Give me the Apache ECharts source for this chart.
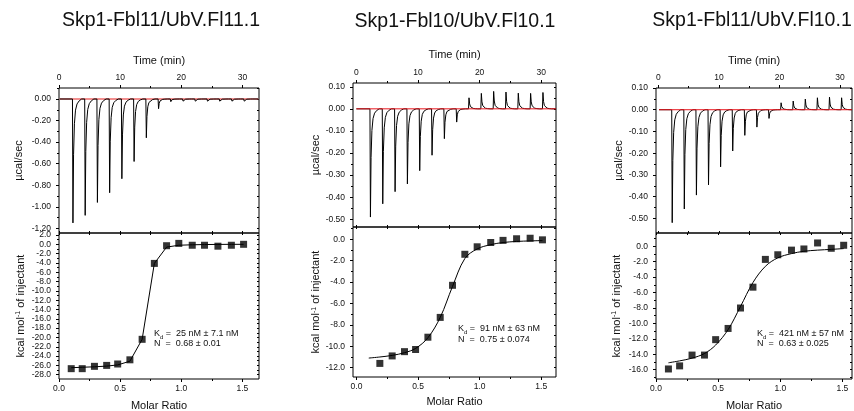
<!DOCTYPE html>
<html><head><meta charset="utf-8">
<script src="https://cdn.jsdelivr.net/npm/echarts@6/dist/echarts.min.js"></script>
<style>html,body{margin:0;padding:0;background:#fff}#c{width:854px;height:411px}</style>
</head><body><div id="c"></div>
<script>
// ---------------- data ----------------
const titles = ['Skp1-Fbl11/UbV.Fl11.1', 'Skp1-Fbl10/UbV.Fl10.1', 'Skp1-Fbl11/UbV.Fl10.1'];
const kdText = ['25 nM \u00b1 7.1 nM', '91 nM \u00b1 63 nM', '421 nM \u00b1 57 nM'];
const nText = ['0.68 \u00b1 0.01', '0.75 \u00b1 0.074', '0.63 \u00b1 0.025'];

// raw thermogram: injection times (min) and peak heights (µcal/sec)
const injTimes = [2.2, 4.2, 6.2, 8.2, 10.2, 12.2, 14.2, 16.2, 18.2, 20.2, 22.2, 24.2, 26.2, 28.2, 30.2];
const peaks1 = [-1.15, -1.08, -0.96, -0.87, -0.74, -0.58, -0.36, -0.09, -0.025, -0.02, -0.02, -0.02, -0.02, -0.02, -0.02];
const peaks2 = [-0.49, -0.43, -0.375, -0.34, -0.28, -0.21, -0.135, -0.06, 0.05, 0.07, 0.079, 0.076, 0.071, 0.07, 0.074];
const peaks3 = [-0.52, -0.457, -0.393, -0.346, -0.263, -0.19, -0.118, -0.08, -0.04, 0.032, 0.04, 0.049, 0.055, 0.058, 0.055];
// peak profile: time after injection (min) and fraction of peak height
const peakOffset = [0, 0.08, 0.18, 0.32, 0.5, 0.75, 1.1, 1.5];
const peakShape = [0, 1, 0.45, 0.2, 0.09, 0.04, 0.015, 0];
const traceStart = [0.1, 0, 0.1];
const traceEnd = [32.6, 32.4, 32.0];

// integrated heats
const molar = [0.10, 0.19, 0.29, 0.39, 0.48, 0.58, 0.68, 0.78, 0.88, 0.98, 1.09, 1.19, 1.30, 1.41, 1.51];
const heat1 = [-26.7, -26.7, -26.2, -26.0, -25.7, -24.8, -20.4, -4.1, -0.3, 0.2, -0.2, -0.2, -0.4, -0.2, 0.0];
const heat2 = [null, -11.6, -10.9, -10.5, -10.3, -9.15, -7.3, -4.3, -1.4, -0.7, -0.3, -0.1, 0.05, 0.1, -0.05];
const heat3 = [-15.9, -15.5, -14.1, -14.1, -12.1, -10.65, -8.0, -5.3, -1.7, -1.1, -0.5, -0.35, 0.43, -0.26, 0.13];
const fit1 = [-26.5, -26.4, -26.3, -26.15, -25.9, -25.1, -20.4, -4.1, -0.6, -0.2, -0.1, -0.05, -0.02, 0, 0];
const fit2 = [-11.1, -11.0, -10.85, -10.6, -10.2, -9.2, -7.3, -4.4, -1.8, -0.9, -0.5, -0.3, -0.2, -0.15, -0.12];
const fit3 = [-15.1, -14.85, -14.5, -13.9, -12.8, -10.8, -7.8, -4.7, -2.6, -1.5, -0.95, -0.65, -0.5, -0.4, -0.3];

// tick values
const timeMajor = [0, 10, 20, 30];
const timeMinor = [5, 15, 25];
const molarMajor = [0, 0.5, 1.0, 1.5];
const molarMinor = [0.25, 0.75, 1.25];
const rawMajor1 = [0, -0.2, -0.4, -0.6, -0.8, -1.0, -1.2];
const rawMinor1 = [0.1, -0.1, -0.3, -0.5, -0.7, -0.9, -1.1];
const rawMajor23 = [0.1, 0, -0.1, -0.2, -0.3, -0.4, -0.5];
const rawMinor23 = [0.05, -0.05, -0.15, -0.25, -0.35, -0.45];
const intMajor1 = [2, 0, -2, -4, -6, -8, -10, -12, -14, -16, -18, -20, -22, -24, -26, -28];
const intMinor1 = [1, -1, -3, -5, -7, -9, -11, -13, -15, -17, -19, -21, -23, -25, -27];
const intMajor2 = [0, -2, -4, -6, -8, -10, -12];
const intMinor2 = [1, -1, -3, -5, -7, -9, -11];
const intMajor3 = [0, -2, -4, -6, -8, -10, -12, -14, -16];
const intMinor3 = [1, -1, -3, -5, -7, -9, -11, -13, -15, -17];

// ---------------- layout ----------------
const FONT = 'Liberation Sans';
const panels = [
  { peaks: peaks1, heat: heat1, fit: fit1, fitSmooth: false, rawMajor: rawMajor1, rawMinor: rawMinor1, intMajor: intMajor1, intMinor: intMinor1,
    topBox: [59, 88, 200, 145], botBox: [59, 233, 200, 146], time: [0, 32.7], mol: [0, 1.636], raw: [-1.2436, 0.102], int: [-28.92, 2.43],
    title: [161, 21], ann: [154, 334, 343.5], gapRaw: 35, gapInt: 33, gapTime: 22, gapMol: 21, redW: 1.6, redC: '#ee6a6a' },
  { peaks: peaks2, heat: heat2, fit: fit2, fitSmooth: true, rawMajor: rawMajor23, rawMinor: rawMinor23, intMajor: intMajor2, intMinor: intMinor2,
    topBox: [353, 83, 203, 144], botBox: [353, 227, 203, 150], time: [-0.55, 32.4], mol: [-0.028, 1.62], raw: [-0.535, 0.117], int: [-12.87, 1.15],
    title: [455, 22], ann: [458, 329, 340], gapRaw: 30, gapInt: 30, gapTime: 22.5, gapMol: 19, redW: 1, redC: '#e8141c' },
  { peaks: peaks3, heat: heat3, fit: fit3, fitSmooth: true, rawMajor: rawMajor23, rawMinor: rawMinor23, intMajor: intMajor3, intMinor: intMinor3,
    topBox: [656, 88, 196, 145], botBox: [656, 233, 196, 146], time: [-0.4, 32.0], mol: [0, 1.577], raw: [-0.5675, 0.1], int: [-17.2, 1.72],
    title: [752, 21], ann: [757, 334, 343.5], gapRaw: 32, gapInt: 34, gapTime: 22, gapMol: 21.5, redW: 1, redC: '#e8141c' }
];

const grids = [], xAxes = [], yAxes = [], series = [], graphics = [];
const labelStyle = { fontSize: 8.5, color: '#111', fontFamily: FONT };
const nameStyle = { fontSize: 11, color: '#111', fontFamily: FONT };

function baseAxis(gridIndex, pos, range) {
  return { type: 'value', gridIndex, position: pos, min: range[0], max: range[1],
    axisLine: { show: false, onZero: false }, splitLine: { show: false }, minorTick: { show: false } };
}
// adds labelled axis + minor-tick axis + mirrored axis; returns index of labelled axis
function addAxes(list, gridIndex, pos, mirrorPos, range, major, minor, fmt, margin, name, gap, nameExtra) {
  const main = baseAxis(gridIndex, pos, range);
  main.axisTick = { show: true, inside: false, length: 3, customValues: major, lineStyle: { color: '#000', width: 1 } };
  main.axisLabel = Object.assign({ show: true, customValues: major, formatter: fmt, margin }, labelStyle);
  if (name) {
    main.name = name; main.nameLocation = 'middle'; main.nameGap = gap;
    main.nameTextStyle = Object.assign({}, nameStyle, nameExtra || {});
  }
  list.push(main);
  const idx = list.length - 1;
  const mi = baseAxis(gridIndex, pos, range);
  mi.axisTick = { show: true, inside: false, length: 2, customValues: minor, lineStyle: { color: '#000', width: 1 } };
  mi.axisLabel = { show: false };
  list.push(mi);
  const mir = baseAxis(gridIndex, mirrorPos, range);
  mir.axisTick = { show: true, inside: true, length: 2, customValues: major.concat(minor), lineStyle: { color: '#000', width: 1 } };
  mir.axisLabel = { show: false };
  list.push(mir);
  return idx;
}
const f2 = v => v.toFixed(2), f1 = v => v.toFixed(1), f0 = v => String(Math.round(v));

function buildTrace(peaks, start, end) {
  const pts = [[start, 0]];
  injTimes.forEach((t, i) => peakOffset.forEach((o, k) => pts.push([t + o, peaks[i] * peakShape[k]])));
  pts.push([end, 0]);
  return pts;
}

panels.forEach((p, i) => {
  const gTop = grids.length;
  grids.push({ left: p.topBox[0], top: p.topBox[1], width: p.topBox[2], height: p.topBox[3], show: true,
    borderColor: '#000', borderWidth: 1, backgroundColor: 'transparent', containLabel: false, outerBoundsMode: 'none' });
  const gBot = grids.length;
  grids.push({ left: p.botBox[0], top: p.botBox[1], width: p.botBox[2], height: p.botBox[3], show: true,
    borderColor: '#000', borderWidth: 1, backgroundColor: 'transparent', containLabel: false, outerBoundsMode: 'none' });

  const xt = addAxes(xAxes, gTop, 'top', 'bottom', p.time, timeMajor, timeMinor, f0, 6, 'Time (min)', p.gapTime);
  const yt = addAxes(yAxes, gTop, 'left', 'right', p.raw, p.rawMajor, p.rawMinor, f2, 8, '\u00b5cal/sec', p.gapRaw);
  const xb = addAxes(xAxes, gBot, 'bottom', 'top', p.mol, molarMajor, molarMinor, f1, 5, 'Molar Ratio', p.gapMol);
  const yb = addAxes(yAxes, gBot, 'left', 'right', p.int, p.intMajor, p.intMinor, f1, 8,
    'kcal mol{sup|-1} of injectant', p.gapInt, { rich: { sup: { fontSize: 7, fontFamily: FONT, color: '#111', verticalAlign: 'top', padding: [0, 0, 4, 0] } } });

  series.push({ type: 'line', xAxisIndex: xt, yAxisIndex: yt, data: buildTrace(p.peaks, traceStart[i], traceEnd[i]),
    symbol: 'none', lineStyle: { color: '#000', width: 1 }, animation: false, z: 2 });
  series.push({ type: 'line', xAxisIndex: xt, yAxisIndex: yt, data: [[traceStart[i], 0], [traceEnd[i], 0]],
    symbol: 'none', lineStyle: { color: p.redC, width: p.redW }, animation: false, z: i === 0 ? 1 : 3 });

  series.push({ type: 'line', xAxisIndex: xb, yAxisIndex: yb, data: molar.map((m, k) => [m, p.fit[k]]),
    symbol: 'none', smooth: p.fitSmooth ? 0.35 : false, lineStyle: { color: '#000', width: 1 }, animation: false, z: 2 });
  series.push({ type: 'scatter', xAxisIndex: xb, yAxisIndex: yb,
    data: molar.map((m, k) => [m, p.heat[k]]).filter(d => d[1] !== null),
    symbol: 'rect', symbolSize: 7, itemStyle: { color: '#000' }, animation: false, z: 3 });

  graphics.push({ type: 'text', x: p.title[0], y: p.title[1], style: { text: titles[i], fill: '#111',
    font: '19.5px "' + FONT + '"', align: 'center', verticalAlign: 'middle' } });
  graphics.push({ type: 'text', x: p.ann[0], y: p.ann[1], style: {
    text: '{k|K}{s|d}{k| =  ' + kdText[i] + '}', align: 'left', verticalAlign: 'middle',
    rich: { k: { fontSize: 9, fontFamily: FONT, fill: '#111', color: '#111', lineHeight: 12, verticalAlign: 'middle' },
            s: { fontSize: 6, fontFamily: FONT, fill: '#111', color: '#111', verticalAlign: 'bottom' } } } });
  graphics.push({ type: 'text', x: p.ann[0], y: p.ann[2], style: { text: 'N  =  ' + nText[i], fill: '#111',
    font: '9px "' + FONT + '"', align: 'left', verticalAlign: 'middle' } });
});

const chart = echarts.init(document.getElementById('c'), null, { renderer: 'canvas' });
chart.setOption({ animation: false, backgroundColor: '#fff', grid: grids, xAxis: xAxes, yAxis: yAxes, series, graphic: graphics });
</script></body></html>
